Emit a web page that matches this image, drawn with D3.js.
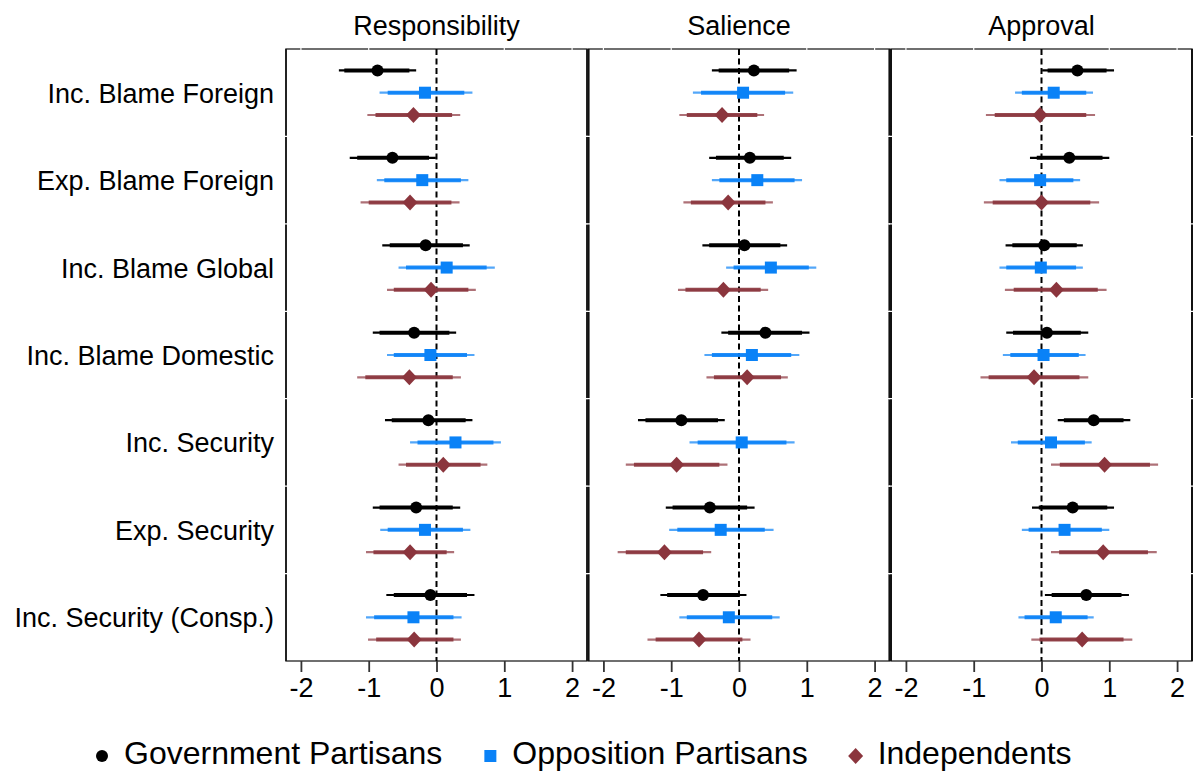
<!DOCTYPE html>
<html>
<head>
<meta charset="utf-8">
<script src="https://cdn.jsdelivr.net/npm/d3@7"></script>
<style>
  body { margin: 0; background: #fff; }
  svg text { font-family: "Liberation Sans", Arial, Helvetica, sans-serif; fill: #000; }
</style>
</head>
<body>
<div id="chart"></div>
<script>
// Categories (top to bottom) and panels
var categories = ['Inc. Blame Foreign', 'Exp. Blame Foreign', 'Inc. Blame Global', 'Inc. Blame Domestic',
	'Inc. Security', 'Exp. Security', 'Inc. Security (Consp.)'];
var panels = ['Responsibility', 'Salience', 'Approval'];
var seriesNames = ['Government Partisans', 'Opposition Partisans', 'Independents'];
var xTicks = [-2, -1, 0, 1, 2];

// rows: [estimate, lo95, hi95, lo90, hi90]
var respGov = [[-0.87,-1.44,-0.30,-1.36,-0.40],[-0.65,-1.28,-0.01,-1.17,-0.11],[-0.16,-0.80,0.49,-0.69,0.39],
	[-0.33,-0.94,0.29,-0.84,0.19],[-0.12,-0.76,0.53,-0.66,0.43],[-0.30,-0.94,0.35,-0.84,0.24],[-0.09,-0.74,0.56,-0.63,0.45]];
var respOpp = [[-0.17,-0.84,0.53,-0.72,0.41],[-0.21,-0.88,0.47,-0.77,0.36],[0.15,-0.56,0.86,-0.45,0.74],
	[-0.09,-0.73,0.56,-0.63,0.45],[0.28,-0.39,0.95,-0.28,0.84],[-0.17,-0.83,0.50,-0.72,0.39],[-0.34,-1.04,0.37,-0.92,0.25]];
var respInd = [[-0.34,-1.02,0.35,-0.90,0.23],[-0.39,-1.12,0.34,-1.00,0.22],[-0.08,-0.73,0.58,-0.63,0.47],
	[-0.40,-1.17,0.36,-1.05,0.24],[0.10,-0.56,0.75,-0.45,0.65],[-0.39,-1.04,0.26,-0.93,0.15],[-0.33,-1.01,0.36,-0.89,0.25]];

var salGov = [[0.22,-0.40,0.85,-0.30,0.74],[0.16,-0.44,0.77,-0.34,0.66],[0.08,-0.54,0.71,-0.44,0.61],
	[0.39,-0.26,1.04,-0.16,0.93],[-0.85,-1.49,-0.21,-1.38,-0.31],[-0.43,-1.08,0.23,-0.98,0.12],[-0.53,-1.16,0.11,-1.06,0.01]];
var salOpp = [[0.06,-0.68,0.80,-0.56,0.68],[0.27,-0.40,0.93,-0.29,0.82],[0.47,-0.19,1.14,-0.08,1.03],
	[0.19,-0.51,0.89,-0.40,0.77],[0.04,-0.73,0.82,-0.61,0.70],[-0.27,-1.03,0.51,-0.91,0.38],[-0.15,-0.88,0.60,-0.77,0.49]];
var salInd = [[-0.25,-0.88,0.37,-0.77,0.27],[-0.16,-0.82,0.50,-0.71,0.39],[-0.23,-0.90,0.43,-0.79,0.32],
	[0.12,-0.48,0.72,-0.37,0.62],[-0.92,-1.67,-0.17,-1.55,-0.29],[-1.10,-1.79,-0.41,-1.67,-0.53],[-0.59,-1.35,0.17,-1.23,0.05]];

var appGov = [[0.53,0.01,1.07,0.09,0.96],[0.41,-0.17,1.00,-0.07,0.90],[0.04,-0.53,0.61,-0.43,0.52],
	[0.08,-0.52,0.69,-0.42,0.58],[0.77,0.24,1.31,0.33,1.21],[0.46,-0.14,1.07,-0.04,0.97],[0.66,0.05,1.29,0.15,1.18]];
var appOpp = [[0.18,-0.39,0.76,-0.29,0.66],[-0.02,-0.62,0.57,-0.52,0.47],[-0.01,-0.62,0.61,-0.52,0.51],
	[0.03,-0.57,0.65,-0.46,0.55],[0.14,-0.45,0.74,-0.35,0.64],[0.34,-0.29,1.00,-0.19,0.89],[0.21,-0.34,0.77,-0.25,0.68]];
var appInd = [[-0.02,-0.82,0.79,-0.69,0.66],[0.00,-0.85,0.85,-0.72,0.72],[0.22,-0.54,0.96,-0.41,0.83],
	[-0.11,-0.90,0.69,-0.78,0.56],[0.93,0.14,1.72,0.27,1.60],[0.91,0.14,1.70,0.26,1.57],[0.60,-0.15,1.34,-0.03,1.21]];

var panelData = [[respGov, respOpp, respInd], [salGov, salOpp, salInd], [appGov, appOpp, appInd]];

var colors = ['#000000', '#0a82f7', '#8b353d'];
var shapes = ['circle', 'square', 'diamond'];

var total_width = 1193;
var total_height = 774;
var plot_top = 49;
var plot_bottom = 661;
var panel_left = 286;
var panel_step = 302.5;
var panel_width = 301;

var svg = d3.select('#chart')
	.append('svg')
	.attr('width', total_width)
	.attr('height', total_height);

// Group band and series position inside each group
var y_scale = d3.scaleBand().domain(categories).range([plot_top, plot_bottom]);
var y_inner = d3.scalePoint().domain(seriesNames).range([y_scale.bandwidth() * 0.245, y_scale.bandwidth() * 0.755]);

function drawMarker(g, shape, cx, cy, color) {
	if (shape == 'circle') {
		g.append('circle').attr('cx', cx).attr('cy', cy).attr('r', 6).attr('fill', color);
	} else if (shape == 'square') {
		var s = 12;
		g.append('rect').attr('x', cx - s / 2).attr('y', cy - s / 2).attr('width', s).attr('height', s).attr('fill', color);
	} else {
		var w = 7.5, h = 8;
		g.append('path')
			.attr('d', 'M' + cx + ',' + (cy - h) + 'L' + (cx + w) + ',' + cy + 'L' + cx + ',' + (cy + h) + 'L' + (cx - w) + ',' + cy + 'Z')
			.attr('fill', color);
	}
}

// Y labels
svg.selectAll('.ylabel')
	.data(categories)
	.enter()
	.append('text')
	.attr('class', 'ylabel')
	.attr('x', 274)
	.attr('y', function(d) { return y_scale(d) + y_scale.bandwidth() / 2 + 10; })
	.attr('text-anchor', 'end')
	.attr('font-size', '27px')
	.text(function(d) { return d; });

panels.forEach(function(title, p) {
	var x0 = panel_left + p * panel_step;
	var x_scale = d3.scaleLinear().domain([-2.22, 2.22]).range([x0, x0 + panel_width]);
	var g = svg.append('g');

	// Title
	g.append('text')
		.attr('x', x_scale(0))
		.attr('y', 35)
		.attr('text-anchor', 'middle')
		.attr('font-size', '27px')
		.text(title);

	// Frame
	g.append('rect')
		.attr('x', x0)
		.attr('y', plot_top)
		.attr('width', panel_width)
		.attr('height', plot_bottom - plot_top)
		.attr('fill', 'none')
		.attr('stroke', '#333')
		.attr('stroke-width', 1.4);
	// Heavier side borders
	g.selectAll('.side')
		.data([x0, x0 + panel_width])
		.enter()
		.append('line')
		.attr('x1', function(d) { return d; })
		.attr('x2', function(d) { return d; })
		.attr('y1', plot_top)
		.attr('y2', plot_bottom)
		.attr('stroke', '#111')
		.attr('stroke-width', p == 0 ? 1.6 : 2);

	// White grid lines (visible only where they cut the frame)
	g.selectAll('.vgrid')
		.data(xTicks.filter(function(t) { return t != 0; }))
		.enter()
		.append('line')
		.attr('x1', function(d) { return x_scale(d); })
		.attr('x2', function(d) { return x_scale(d); })
		.attr('y1', plot_top - 1)
		.attr('y2', plot_top + 1)
		.attr('stroke', '#fff')
		.attr('stroke-width', 1.2);
	g.selectAll('.hgrid')
		.data(categories.slice(1))
		.enter()
		.append('line')
		.attr('x1', x0 - 2)
		.attr('x2', x0 + panel_width + 2)
		.attr('y1', function(d) { return y_scale(d); })
		.attr('y2', function(d) { return y_scale(d); })
		.attr('stroke', '#fff')
		.attr('stroke-width', 1.2);

	// Bottom axis
	var axis = g.append('g')
		.attr('transform', 'translate(0,' + plot_bottom + ')')
		.call(d3.axisBottom(x_scale).tickValues(xTicks).tickSize(11).tickPadding(6).tickFormat(function(d) { return d < 0 ? '-' + (-d) : '' + d; }));
	axis.select('.domain').remove();
	axis.selectAll('line').attr('stroke', '#333').attr('stroke-width', 1.8);
	axis.selectAll('text').attr('font-size', '27px').attr('fill', '#000')
		.attr('font-family', '"Liberation Sans", Arial, Helvetica, sans-serif');

	// Zero reference line
	g.append('line')
		.attr('x1', x_scale(0))
		.attr('x2', x_scale(0))
		.attr('y1', plot_top)
		.attr('y2', plot_bottom)
		.attr('stroke', '#000')
		.attr('stroke-width', 2)
		.attr('stroke-dasharray', '6,3.5');

	// Estimates with 95% (thin) and 90% (thick) intervals
	panelData[p].forEach(function(rows, s) {
		var sg = g.append('g');
		rows.forEach(function(r, i) {
			var cy = y_scale(categories[i]) + y_inner(seriesNames[s]);
			sg.append('line')
				.attr('x1', x_scale(r[1])).attr('x2', x_scale(r[2]))
				.attr('y1', cy).attr('y2', cy)
				.attr('stroke', colors[s])
				.attr('stroke-opacity', s == 0 ? 1 : 0.7)
				.attr('stroke-width', 2.2);
			sg.append('line')
				.attr('x1', x_scale(r[3])).attr('x2', x_scale(r[4]))
				.attr('y1', cy).attr('y2', cy)
				.attr('stroke', colors[s])
				.attr('stroke-opacity', s == 0 ? 1 : 0.9)
				.attr('stroke-width', 4);
			drawMarker(sg, shapes[s], x_scale(r[0]), cy, colors[s]);
		});
	});
});

// Legend
var legend = svg.append('g');
var lx = 102;
var ly = 756;
seriesNames.forEach(function(name, s) {
	drawMarker(legend, shapes[s], lx, ly, colors[s]);
	var t = legend.append('text')
		.attr('x', lx + 22)
		.attr('y', 764)
		.attr('font-size', '32px')
		.text(name);
	lx = lx + 22 + t.node().getComputedTextLength() + 48;
});
</script>
</body>
</html>
